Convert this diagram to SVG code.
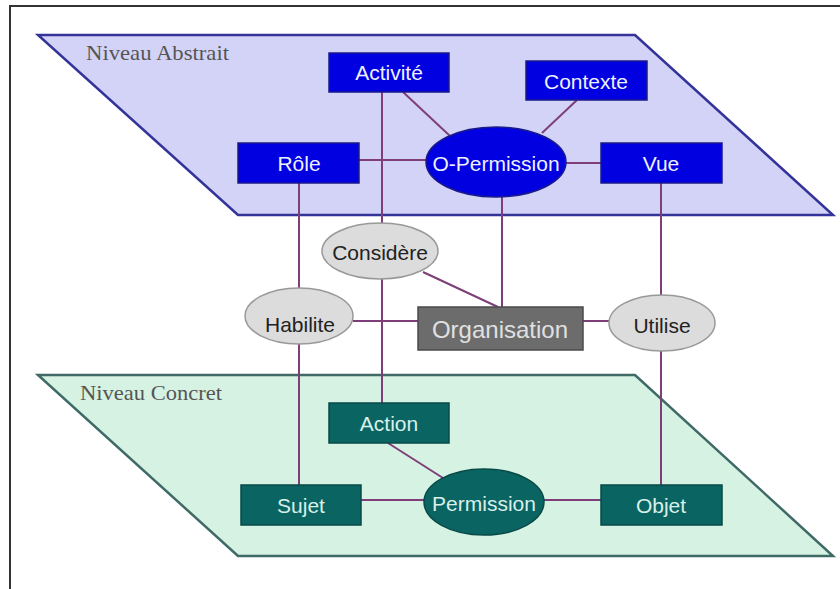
<svg xmlns="http://www.w3.org/2000/svg" width="840" height="589" viewBox="0 0 840 589">
  <style>
    .frame { fill: none; stroke: #333; stroke-width: 2; }
    .plane-abs { fill: #d3d3f7; stroke: #33339a; stroke-width: 2.5; }
    .plane-con { fill: #d6f2e2; stroke: #3f6a66; stroke-width: 2.5; }
    .plane-label { font-family: "Liberation Serif", serif; font-size: 22px; fill: #555; }
    .conn { stroke: #7e3f78; stroke-width: 2; fill: none; }
    .abs { fill: #0000e0; stroke: #1a1a8a; stroke-width: 1.5; }
    .con { fill: #0a6462; stroke: #074a48; stroke-width: 1.5; }
    .mid { fill: #dcdcdc; stroke: #999; stroke-width: 1.5; }
    .org { fill: #6c6c6c; stroke: #4a4a4a; stroke-width: 1.5; }
    .t { font-family: "Liberation Sans", Arial, sans-serif; font-size: 21px; text-anchor: middle; dominant-baseline: central; }
    .tl { fill: #eef0ff; }
    .tg { fill: #d8f0ea; }
    .td { fill: #222; }
    .to { fill: #e0e0e0; font-size: 24px; }
  </style>

  <!-- page frame -->
  <path class="frame" d="M10,589 V6 H840"/>

  <!-- planes -->
  <g id="plane-abstrait">
    <polygon class="plane-abs" points="38,35 635,35 833,215 238,215"/>
    <text class="plane-label" x="86" y="60" textLength="143" lengthAdjust="spacingAndGlyphs">Niveau Abstrait</text>
  </g>
  <g id="plane-concret">
    <polygon class="plane-con" points="38,375 635,375 833,556 238,556"/>
    <text class="plane-label" x="80" y="400" textLength="142" lengthAdjust="spacingAndGlyphs">Niveau Concret</text>
  </g>

  <!-- connectors -->
  <g id="connectors">
    <line class="conn" x1="382" y1="92" x2="382" y2="403"/>
    <line class="conn" x1="403" y1="92" x2="450" y2="136"/>
    <line class="conn" x1="577" y1="100" x2="542" y2="133"/>
    <line class="conn" x1="359" y1="160" x2="427" y2="160"/>
    <line class="conn" x1="566" y1="163" x2="601" y2="163"/>
    <line class="conn" x1="502" y1="197" x2="502" y2="307"/>
    <line class="conn" x1="661" y1="183" x2="661" y2="485"/>
    <line class="conn" x1="299" y1="183" x2="299" y2="485"/>
    <line class="conn" x1="423" y1="272" x2="498" y2="307"/>
    <line class="conn" x1="353" y1="321" x2="418" y2="321"/>
    <line class="conn" x1="583" y1="321" x2="609" y2="321"/>
    <line class="conn" x1="388" y1="443" x2="443" y2="478"/>
    <line class="conn" x1="361" y1="500" x2="424" y2="500"/>
    <line class="conn" x1="543" y1="500" x2="601" y2="500"/>
  </g>

  <!-- abstract level -->
  <g id="activite">
    <rect class="abs" x="329" y="53" width="120" height="39"/>
    <text class="t tl" x="389" y="72">Activité</text>
  </g>
  <g id="contexte">
    <rect class="abs" x="526" y="61" width="121" height="39"/>
    <text class="t tl" x="586" y="81">Contexte</text>
  </g>
  <g id="role">
    <rect class="abs" x="238" y="143" width="121" height="40"/>
    <text class="t tl" x="299" y="163">Rôle</text>
  </g>
  <g id="vue">
    <rect class="abs" x="601" y="143" width="121" height="40"/>
    <text class="t tl" x="661" y="163">Vue</text>
  </g>
  <g id="o-permission">
    <ellipse class="abs" cx="496" cy="162" rx="70" ry="35"/>
    <text class="t tl" x="496" y="163">O-Permission</text>
  </g>

  <!-- link relations -->
  <g id="considere">
    <ellipse class="mid" cx="380" cy="251" rx="58" ry="28"/>
    <text class="t td" x="380" y="252">Considère</text>
  </g>
  <g id="habilite">
    <ellipse class="mid" cx="299" cy="316" rx="54" ry="28"/>
    <text class="t td" x="300" y="324">Habilite</text>
  </g>
  <g id="organisation">
    <rect class="org" x="418" y="307" width="165" height="43"/>
    <text class="t to" x="500" y="329">Organisation</text>
  </g>
  <g id="utilise">
    <ellipse class="mid" cx="662" cy="323" rx="53" ry="28"/>
    <text class="t td" x="662" y="325">Utilise</text>
  </g>

  <!-- concrete level -->
  <g id="action">
    <rect class="con" x="329" y="403" width="120" height="40"/>
    <text class="t tg" x="389" y="423">Action</text>
  </g>
  <g id="sujet">
    <rect class="con" x="241" y="485" width="120" height="40"/>
    <text class="t tg" x="301" y="505">Sujet</text>
  </g>
  <g id="objet">
    <rect class="con" x="601" y="485" width="121" height="40"/>
    <text class="t tg" x="661" y="505">Objet</text>
  </g>
  <g id="permission">
    <ellipse class="con" cx="484" cy="502" rx="60" ry="33"/>
    <text class="t tg" x="484" y="503">Permission</text>
  </g>
</svg>
